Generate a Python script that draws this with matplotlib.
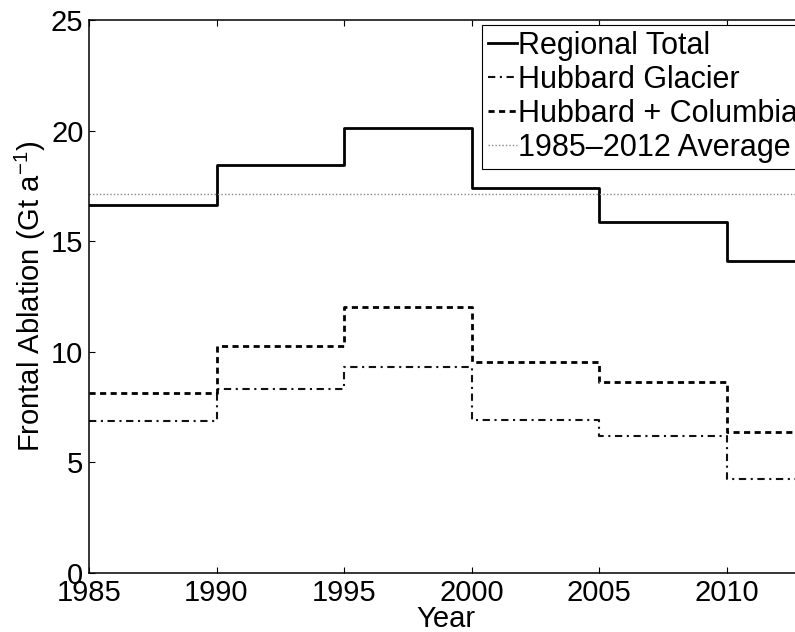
import numpy as np
import matplotlib
matplotlib.use("Agg")
import matplotlib.pyplot as plt

plt.rcParams['font.family'] = ['Liberation Sans', 'DejaVu Sans']
plt.rcParams['mathtext.default'] = 'regular'

# Five-year bins of frontal ablation (Gt/a); last bin runs to the axis edge
edges = [1985, 1990, 1995, 2000, 2005, 2010, 2013]
regional_total = [16.64, 18.45, 20.12, 17.42, 15.85, 14.10]
hubbard = [6.87, 8.32, 9.33, 6.93, 6.19, 4.24]
hubbard_columbia = [8.12, 10.28, 12.01, 9.52, 8.65, 6.39]
average_1985_2012 = 17.12


def steps(vals):
    # repeat the last value so the final bin is drawn out to its right edge
    return list(vals) + [vals[-1]]


fig = plt.figure(figsize=(7.95, 6.32), dpi=100)
# axes run past the right border of the figure
ax = fig.add_axes([89 / 795, 59 / 632, 714 / 795, 553 / 632])

ax.step(edges, steps(regional_total), where="post", color="black",
        linewidth=2.0, label="Regional Total")
ax.step(edges, steps(hubbard), where="post", color="#111111",
        linewidth=1.5, linestyle=(0, (3.5, 2.2, 1, 2.2)), label="Hubbard Glacier")
ax.step(edges, steps(hubbard_columbia), where="post", color="black",
        linewidth=2.0, linestyle=(0, (2.2, 1.6)), label="Hubbard + Columbia")
ax.axhline(average_1985_2012, color="#888888", linewidth=1.0,
           linestyle=(0, (1, 1.5)), label="1985\u20132012 Average")

ax.set_xlim(1985, 2013)
ax.set_ylim(0, 25)
ax.set_xticks([1985, 1990, 1995, 2000, 2005, 2010])
ax.set_yticks([0, 5, 10, 15, 20, 25])

ax.tick_params(direction="in", length=4.5, width=0.8, labelsize=21,
               top=True, right=True, pad=4)
for sp in ax.spines.values():
    sp.set_linewidth(1.1)

ax.set_xlabel("Year", fontsize=21, labelpad=-1)
ax.set_ylabel("Frontal Ablation (Gt a$^{-1}$)", fontsize=21, labelpad=2)

leg = ax.legend(loc="upper left", bbox_to_anchor=(0.55, 0.991),
                borderaxespad=0, fontsize=22, handlelength=0.95,
                handletextpad=0.05, labelspacing=0.13, borderpad=0.2,
                fancybox=False, framealpha=1, edgecolor="black")
leg.get_frame().set_linewidth(0.8)

fig.savefig("out.png", dpi=100)
